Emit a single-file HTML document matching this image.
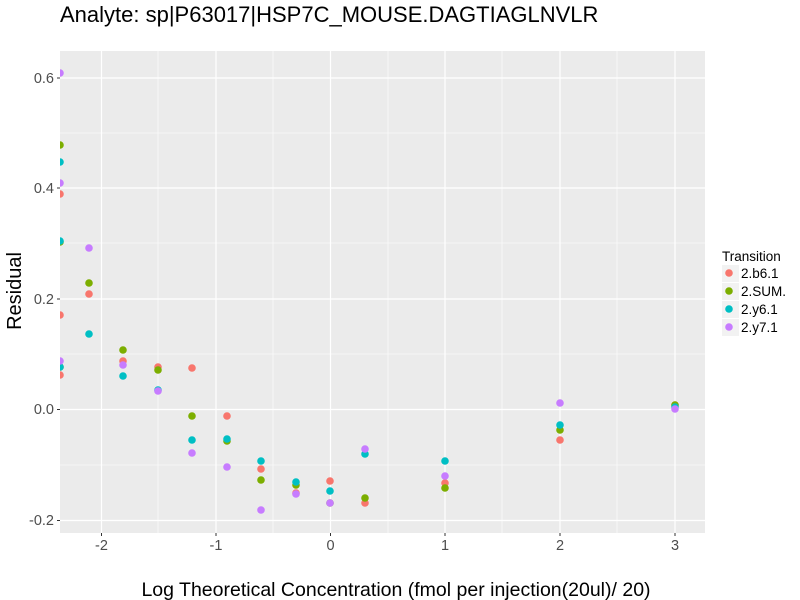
<!DOCTYPE html>
<html><head><meta charset="utf-8"><style>body{margin:0;background:#fff}svg{display:block}</style></head><body>
<svg width="800" height="600" xmlns="http://www.w3.org/2000/svg" font-family="Liberation Sans, sans-serif">
<defs><clipPath id="c"><rect x="60" y="51" width="645" height="482"/></clipPath></defs>
<rect x="60" y="51" width="645" height="482" fill="#EBEBEB"/>
<g stroke="#fff" stroke-width="0.6">
<line x1="60" x2="705" y1="133" y2="133"/><line x1="60" x2="705" y1="243" y2="243"/><line x1="60" x2="705" y1="354" y2="354"/><line x1="60" x2="705" y1="465" y2="465"/>
<line y1="51" y2="533" x1="158" x2="158"/><line y1="51" y2="533" x1="273" x2="273"/><line y1="51" y2="533" x1="388" x2="388"/><line y1="51" y2="533" x1="502" x2="502"/><line y1="51" y2="533" x1="617" x2="617"/>
</g>
<g stroke="#fff" stroke-width="1.2">
<line x1="60" x2="705" y1="78" y2="78"/><line x1="60" x2="705" y1="188" y2="188"/><line x1="60" x2="705" y1="299" y2="299"/><line x1="60" x2="705" y1="409.5" y2="409.5"/><line x1="60" x2="705" y1="520.5" y2="520.5"/>
<line y1="51" y2="533" x1="101.5" x2="101.5"/><line y1="51" y2="533" x1="216" x2="216"/><line y1="51" y2="533" x1="330.5" x2="330.5"/><line y1="51" y2="533" x1="445" x2="445"/><line y1="51" y2="533" x1="560" x2="560"/><line y1="51" y2="533" x1="675" x2="675"/>
</g>
<g clip-path="url(#c)">
<g fill="#F8766D"><circle cx="60" cy="194" r="3.8"/><circle cx="60" cy="315" r="3.8"/><circle cx="60" cy="375" r="3.8"/><circle cx="89" cy="294" r="3.8"/><circle cx="123" cy="361" r="3.8"/><circle cx="158" cy="367" r="3.8"/><circle cx="192" cy="368" r="3.8"/><circle cx="227" cy="416" r="3.8"/><circle cx="261" cy="469" r="3.8"/><circle cx="296" cy="493" r="3.8"/><circle cx="330" cy="481" r="3.8"/><circle cx="365" cy="503" r="3.8"/><circle cx="445" cy="483" r="3.8"/><circle cx="560" cy="440" r="3.8"/><circle cx="675" cy="405" r="3.8"/></g>
<g fill="#7CAE00"><circle cx="60" cy="145" r="3.8"/><circle cx="60" cy="242" r="3.8"/><circle cx="60" cy="367" r="3.8"/><circle cx="89" cy="283" r="3.8"/><circle cx="123" cy="350" r="3.8"/><circle cx="158" cy="370" r="3.8"/><circle cx="192" cy="416" r="3.8"/><circle cx="227" cy="441" r="3.8"/><circle cx="261" cy="480" r="3.8"/><circle cx="296" cy="485" r="3.8"/><circle cx="330" cy="503" r="3.8"/><circle cx="365" cy="498" r="3.8"/><circle cx="445" cy="488" r="3.8"/><circle cx="560" cy="430" r="3.8"/><circle cx="675" cy="405" r="3.8"/></g>
<g fill="#00BFC4"><circle cx="60" cy="162" r="3.8"/><circle cx="60" cy="241" r="3.8"/><circle cx="60" cy="367" r="3.8"/><circle cx="89" cy="334" r="3.8"/><circle cx="123" cy="376" r="3.8"/><circle cx="158" cy="390" r="3.8"/><circle cx="192" cy="440" r="3.8"/><circle cx="227" cy="439" r="3.8"/><circle cx="261" cy="461" r="3.8"/><circle cx="296" cy="482" r="3.8"/><circle cx="330" cy="491" r="3.8"/><circle cx="365" cy="454" r="3.8"/><circle cx="445" cy="461" r="3.8"/><circle cx="560" cy="425" r="3.8"/><circle cx="675" cy="407" r="3.8"/></g>
<g fill="#C77CFF"><circle cx="60" cy="73" r="3.8"/><circle cx="60" cy="183" r="3.8"/><circle cx="60" cy="361" r="3.8"/><circle cx="89" cy="248" r="3.8"/><circle cx="123" cy="365" r="3.8"/><circle cx="158" cy="391" r="3.8"/><circle cx="192" cy="453" r="3.8"/><circle cx="227" cy="467" r="3.8"/><circle cx="261" cy="510" r="3.8"/><circle cx="296" cy="494" r="3.8"/><circle cx="330" cy="503" r="3.8"/><circle cx="365" cy="449" r="3.8"/><circle cx="445" cy="476" r="3.8"/><circle cx="560" cy="403" r="3.8"/><circle cx="675" cy="409" r="3.8"/></g>
</g>
<g stroke="#333" stroke-width="1">
<line x1="57" x2="60" y1="78" y2="78"/><line x1="57" x2="60" y1="188" y2="188"/><line x1="57" x2="60" y1="299" y2="299"/><line x1="57" x2="60" y1="409.5" y2="409.5"/><line x1="57" x2="60" y1="520.5" y2="520.5"/>
<line y1="533" y2="536" x1="101.5" x2="101.5"/><line y1="533" y2="536" x1="216" x2="216"/><line y1="533" y2="536" x1="330.5" x2="330.5"/><line y1="533" y2="536" x1="445" x2="445"/><line y1="533" y2="536" x1="560" x2="560"/><line y1="533" y2="536" x1="675" x2="675"/>
</g>
<g font-size="14.5" fill="#4D4D4D" text-anchor="end">
<text x="54" y="83">0.6</text><text x="54" y="193">0.4</text><text x="54" y="304">0.2</text><text x="54" y="414">0.0</text><text x="54" y="525">-0.2</text>
</g>
<g font-size="14.5" fill="#4D4D4D" text-anchor="middle">
<text x="101.5" y="550">-2</text><text x="216" y="550">-1</text><text x="330.5" y="550">0</text><text x="445" y="550">1</text><text x="560" y="550">2</text><text x="675" y="550">3</text>
</g>
<text x="60" y="22" font-size="22" fill="#000">Analyte: sp|P63017|HSP7C_MOUSE.DAGTIAGLNVLR</text>
<text x="396" y="596" font-size="19.5" text-anchor="middle" fill="#000">Log Theoretical Concentration (fmol per injection(20ul)/ 20)</text>
<text transform="translate(21,291) rotate(-90)" font-size="20" text-anchor="middle" fill="#000">Residual</text>
<text x="722" y="261" font-size="13.5" fill="#000">Transition</text>
<g fill="#F2F2F2"><rect x="722" y="265" width="17" height="17"/><rect x="722" y="283" width="17" height="17"/><rect x="722" y="301" width="17" height="17"/><rect x="722" y="319" width="17" height="17"/></g>
<circle cx="729" cy="273" r="3.8" fill="#F8766D"/><circle cx="729" cy="291" r="3.8" fill="#7CAE00"/><circle cx="729" cy="309" r="3.8" fill="#00BFC4"/><circle cx="729" cy="327" r="3.8" fill="#C77CFF"/>
<g font-size="13.5" fill="#000"><text x="741" y="278">2.b6.1</text><text x="741" y="296">2.SUM.</text><text x="741" y="314">2.y6.1</text><text x="741" y="332">2.y7.1</text></g>
</svg>
</body></html>
